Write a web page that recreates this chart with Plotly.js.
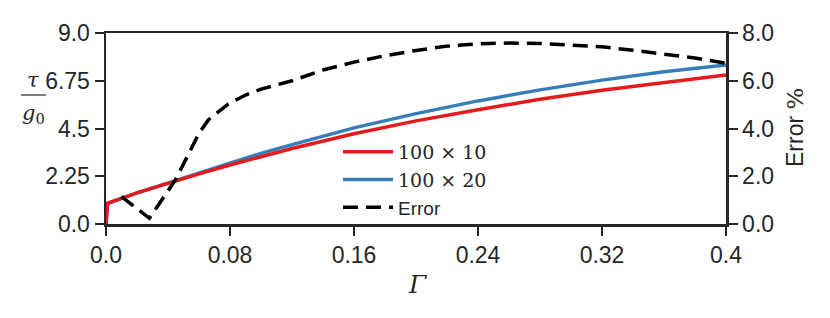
<!DOCTYPE html>
<html>
<head>
<meta charset="utf-8">
<script src="https://cdn.plot.ly/plotly-3.0.1.min.js"></script>
<style>html,body{margin:0;padding:0;background:#fff;}#chart{width:830px;height:318px;}</style>
</head>
<body>
<div id="chart"></div>
<script>
// ---- data ----
const gamma = [0, 0.001, 0.02, 0.04, 0.06, 0.08, 0.10, 0.12, 0.16, 0.20, 0.24, 0.28, 0.32, 0.36, 0.40];
const tau100x10 = [0, 0.97, 1.47, 1.93, 2.36, 2.78, 3.18, 3.56, 4.25, 4.86, 5.38, 5.88, 6.30, 6.68, 7.02];
const tau100x20 = [0, 0.97, 1.47, 1.93, 2.40, 2.88, 3.33, 3.74, 4.53, 5.20, 5.80, 6.32, 6.78, 7.17, 7.49];
const gammaErr = [0.01, 0.028, 0.045, 0.06, 0.066, 0.079, 0.09, 0.10, 0.12, 0.14, 0.16, 0.18, 0.20, 0.22, 0.24, 0.26, 0.28, 0.30, 0.32, 0.34, 0.36, 0.38, 0.40];
const errPct = [1.15, 0.24, 1.87, 3.8, 4.36, 5.03, 5.4, 5.65, 6.0, 6.45, 6.78, 7.05, 7.27, 7.45, 7.55, 7.58, 7.56, 7.5, 7.42, 7.28, 7.12, 6.95, 6.73];
const xTickVals = [0, 0.08, 0.16, 0.24, 0.32, 0.4];
const xTickText = ["0.0", "0.08", "0.16", "0.24", "0.32", "0.4"];
const yTickVals = [0, 2.25, 4.5, 6.75, 9];
const yTickText = ["0.0", "2.25", "4.5", "6.75", "9.0"];
const y2TickVals = [0, 2, 4, 6, 8];
const y2TickText = ["0.0", "2.0", "4.0", "6.0", "8.0"];

const AX = '#262626';
const serifSpan = s => '<span style="font-family:DejaVu Serif;font-size:19px">' + s + '</span>';

const traces = [
  {x: gamma, y: tau100x20, mode: 'lines', name: serifSpan('100 × 20'), legendrank: 2,
   line: {color: '#377eb8', width: 3.5}, yaxis: 'y'},
  {x: gamma, y: tau100x10, mode: 'lines', name: serifSpan('100 × 10'), legendrank: 1,
   line: {color: '#e41a1c', width: 3.5}, yaxis: 'y'},
  {x: gammaErr, y: errPct, mode: 'lines', name: 'Error', legendrank: 3,
   line: {color: '#000000', width: 3.5, dash: '15px,8px'}, yaxis: 'y2'}
];

const tickFont = {family: 'Liberation Sans, Arial, sans-serif', size: 23, color: AX};
const px = v => (v - 106) / 620;
const py = v => (224 - v) / 191;

const layout = {
  width: 830, height: 318,
  margin: {l: 106, r: 104, t: 33, b: 94, pad: 0},
  paper_bgcolor: '#fff', plot_bgcolor: '#fff',
  showlegend: true,
  legend: {x: px(338), y: py(133), xanchor: 'left', yanchor: 'top',
           bgcolor: 'rgba(255,255,255,0)', borderwidth: 0, itemwidth: 50,
           font: {family: 'Liberation Sans, Arial, sans-serif', size: 19, color: AX},
           traceorder: 'normal', tracegroupgap: 0},
  xaxis: {range: [0, 0.4], tickvals: xTickVals, ticktext: xTickText,
          showgrid: false, zeroline: false, showline: true, mirror: true,
          linecolor: AX, linewidth: 2.5, ticks: 'outside', ticklen: 9, tickwidth: 2, tickcolor: AX,
          tickfont: tickFont},
  yaxis: {range: [0, 9], tickvals: yTickVals, ticktext: yTickText,
          showgrid: false, zeroline: false, showline: true,
          linecolor: AX, linewidth: 2.5, ticks: 'outside', ticklen: 9, tickwidth: 2, tickcolor: AX,
          tickfont: tickFont},
  yaxis2: {range: [0, 8], tickvals: y2TickVals, ticktext: y2TickText, overlaying: 'y', side: 'right',
           showgrid: false, zeroline: false, showline: true,
           linecolor: AX, linewidth: 2.5, ticks: 'outside', ticklen: 9, tickwidth: 2, tickcolor: AX,
           tickfont: tickFont},
  annotations: [
    {xref: 'paper', yref: 'paper', x: px(33), y: py(80), text: '<i>τ</i>', showarrow: false,
     font: {family: 'DejaVu Serif', size: 21, color: AX}, xanchor: 'center', yanchor: 'middle'},
    {xref: 'paper', yref: 'paper', x: px(33), y: py(114), text: '<i>g</i><sub>0</sub>', showarrow: false,
     font: {family: 'DejaVu Serif', size: 21, color: AX}, xanchor: 'center', yanchor: 'middle'},
    {xref: 'paper', yref: 'paper', x: px(795), y: py(128), textangle: -90,
     text: 'Error <span style="font-family:DejaVu Serif">%</span>', showarrow: false,
     font: {family: 'Liberation Sans, Arial, sans-serif', size: 23, color: AX}, xanchor: 'center', yanchor: 'middle'},
    {xref: 'paper', yref: 'paper', x: px(418), y: py(284), text: '<i>Γ</i>', showarrow: false,
     font: {family: 'DejaVu Serif', size: 25, color: AX}, xanchor: 'center', yanchor: 'middle'}
  ],
  shapes: [
    {type: 'line', xref: 'paper', yref: 'paper', x0: px(21), x1: px(46), y0: py(95), y1: py(95),
     line: {color: AX, width: 1.2}}
  ]
};

Plotly.newPlot('chart', traces, layout, {displayModeBar: false, staticPlot: true});
</script>
</body>
</html>
